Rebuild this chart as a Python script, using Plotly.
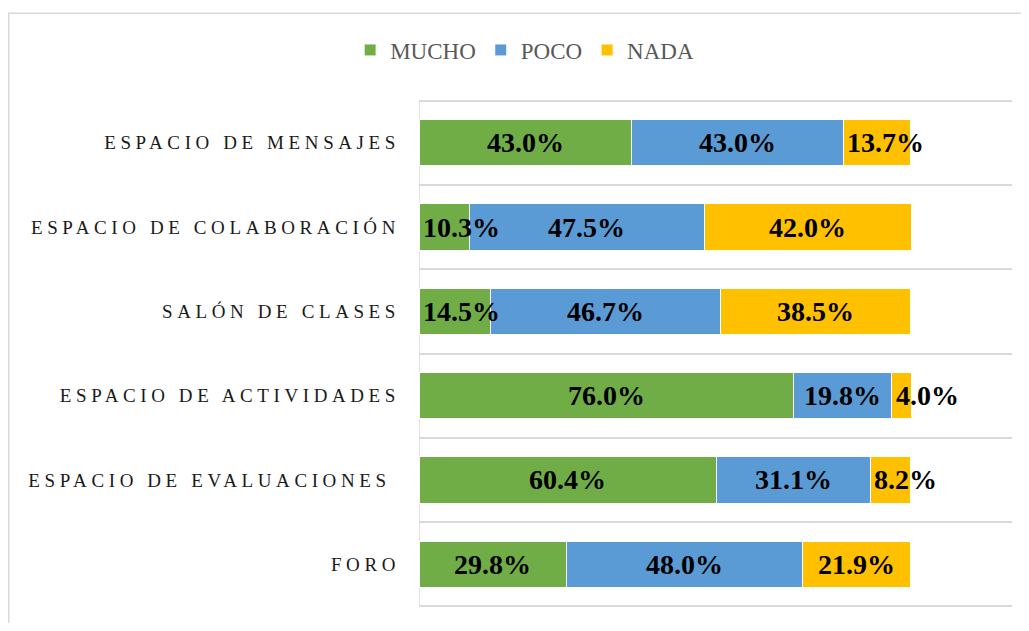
import plotly.graph_objects as go

categories = ["FORO", "ESPACIO DE EVALUACIONES ", "ESPACIO DE ACTIVIDADES",
              "SALÓN DE CLASES", "ESPACIO DE COLABORACIÓN", "ESPACIO DE MENSAJES"]
mucho = [29.8, 60.4, 76.0, 14.5, 10.3, 43.0]
poco = [48.0, 31.1, 19.8, 46.7, 47.5, 43.0]
nada = [21.9, 8.2, 4.0, 38.5, 42.0, 13.7]
series_names = ["MUCHO", "POCO", "NADA"]
colors = ["#70AD47", "#5B9BD5", "#FFC000"]

FONT = "Liberation Serif"
LABEL_SIZE = 28
XMAX = 120.2
PAD = 0.03  # category-range padding so edge grid lines are drawn

# page has an 8px body margin; figure sized to fit the 1029x631 window
W, H = 1013, 615
# category band area (fig px): x 411..1004, y 93..598
band_top, band_bot = 93, 598
per_cat = (band_bot - band_top) / len(categories)
L, R = 411, 9
T = band_top - PAD * per_cat
B = H - (band_bot + PAD * per_cat)
pw, ph = W - L - R, H - T - B
px_per_unit = pw / XMAX

fig = go.Figure()
series = [mucho, poco, nada]
for name, vals, col in zip(series_names, series, colors):
    fig.add_trace(go.Bar(
        y=categories, x=vals, name=name, orientation="h",
        marker=dict(color=col, line=dict(color="white", width=1)),
        width=0.55, hoverinfo="x+y+name",
    ))

# data labels (Excel style: centred, left-aligned in segment when too wide)
annotations = []
for i, cat in enumerate(categories):
    base = 0.0
    for vals in series:
        v = vals[i]
        txt = "%.1f%%" % v
        est_w = LABEL_SIZE * (0.5 * (len(txt) - 2) + 0.25 + 1.0)
        if v * px_per_unit >= est_w:
            x, anchor, shift = base + v / 2, "center", 0
        else:
            x, anchor, shift = base, "left", 2
        annotations.append(dict(
            x=x, y=cat, xref="x", yref="y", text=txt, showarrow=False,
            xanchor=anchor, xshift=shift, yanchor="middle",
            font=dict(family=FONT, size=LABEL_SIZE, color="black", weight="bold"),
        ))
        base += v

ticktext = ['<span style="letter-spacing:4.6px">%s</span>' % c for c in categories]

fig.update_layout(
    width=W, height=H,
    barmode="stack",
    plot_bgcolor="white", paper_bgcolor="white",
    margin=dict(l=L, r=R, t=T, b=B, autoexpand=False),
    font=dict(family=FONT, color="#262626"),
    legend=dict(orientation="h", xref="container", x=0.51, xanchor="center",
                yref="container", y=1 - 42 / H, yanchor="middle",
                font=dict(family=FONT, size=23, color="#595959"),
                itemwidth=30, traceorder="normal"),
    xaxis=dict(range=[0, XMAX], showgrid=False, showticklabels=False,
               zeroline=False, showline=False, fixedrange=True),
    yaxis=dict(categoryorder="array", categoryarray=categories,
               tickvals=categories, ticktext=ticktext,
               tickson="boundaries", showgrid=True, gridcolor="#D9D9D9",
               gridwidth=1.5, ticks="", showline=False, zeroline=False,
               range=[-0.5 - PAD, len(categories) - 0.5 + PAD],
               tickfont=dict(family=FONT, size=19, color="#1a1a1a"),
               ticklabelstandoff=18),
    annotations=annotations,
    shapes=[
        dict(type="line", xref="x", yref="y", x0=0, x1=0,
             y0=-0.5, y1=len(categories) - 0.5,
             line=dict(color="#D9D9D9", width=1.5), layer="below"),
        dict(type="rect", xref="paper", yref="paper",
             x0=(0.75 - L) / pw, x1=(W + 10 - L) / pw,
             y0=-(B + 10) / ph, y1=1 + (T - 6) / ph,
             line=dict(color="#D9D9D9", width=1.5), layer="below"),
    ],
)

fig.write_html("out.html")
